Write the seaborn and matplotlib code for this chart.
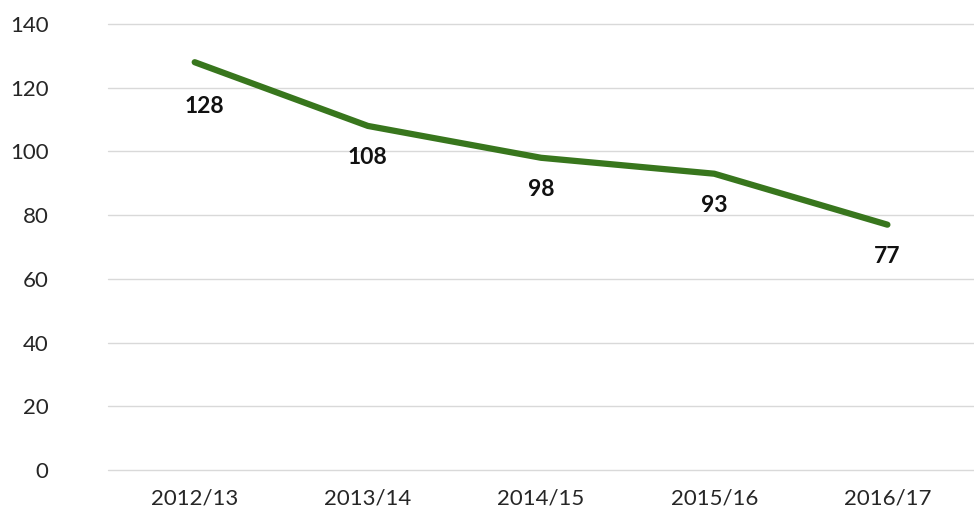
import numpy as np
import pandas as pd
import matplotlib
matplotlib.use("Agg")
import matplotlib.pyplot as plt
import seaborn as sns

years = ["2012/13", "2013/14", "2014/15", "2015/16", "2016/17"]
values = [128, 108, 98, 93, 77]

sns.set_theme(style="white")
plt.rcParams["font.family"] = ["Lato", "DejaVu Sans"]

df = pd.DataFrame({"year": years, "value": values})

fig = plt.figure(figsize=(9.74, 5.18), dpi=100)
ax = fig.add_axes([0.111, 0.0927, 0.889, 0.861])

sns.lineplot(data=df, x="year", y="value", color="#38761d", linewidth=4.5,
             solid_capstyle="round", ax=ax)

# data labels sit under each point
for i, (y, v) in enumerate(zip(years, values)):
    dx, dy = (7, -32) if i == 0 else (0, -23)
    ax.annotate(str(v), (i, v), xytext=(dx, dy), textcoords="offset points",
                ha="center", va="center", fontsize=16.5, fontweight="bold",
                color="#111111")

ax.set_ylim(0, 140)
ax.set_xlim(-0.5, 4.5)
ax.set_yticks(range(0, 141, 20))
ax.yaxis.grid(True, color="#d9d9d9", linewidth=1)
ax.xaxis.grid(False)
for gl in ax.yaxis.get_gridlines():
    gl.set_clip_on(False)
sns.despine(ax=ax, left=True, bottom=True)
ax.set_xlabel("")
ax.set_ylabel("")
ax.tick_params(axis="y", length=0, pad=43, labelsize=16, labelcolor="#262626")
ax.tick_params(axis="x", length=0, pad=13, labelsize=16, labelcolor="#262626")

fig.savefig("out.png", dpi=100)
